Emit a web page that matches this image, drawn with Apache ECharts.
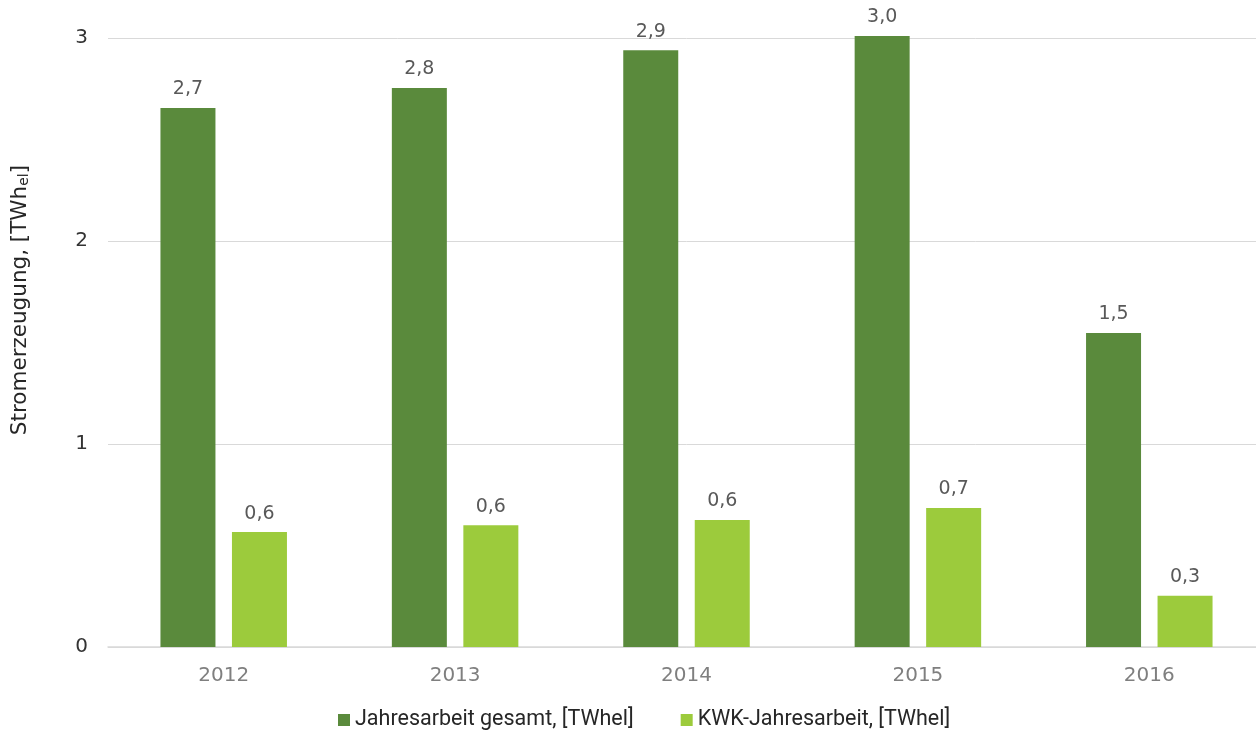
<!DOCTYPE html>
<html>
<head>
<meta charset="utf-8">
<script src="https://cdn.jsdelivr.net/npm/echarts@6/dist/echarts.min.js"></script>
<style>
  html, body { margin: 0; padding: 0; background: #fff; overflow: hidden; }
  #main { width: 1265px; height: 731px; }
</style>
</head>
<body>
<div id="main"></div>
<script>
// Daten
var years = ['2012', '2013', '2014', '2015', '2016'];
var jahresarbeit = [2.655, 2.754, 2.94, 3.01, 1.547];
var kwkJahresarbeit = [0.566, 0.60, 0.626, 0.685, 0.252];
var seriesNames = ['Jahresarbeit gesamt, [TWhel]', 'KWK-Jahresarbeit, [TWhel]'];

var wideFont = '"DejaVu Sans", Roboto, sans-serif';
var legendFont = 'Roboto, "Liberation Sans", sans-serif';

function fmt(p) {
  return p.value.toFixed(1).replace('.', ',');
}

var myChart = echarts.init(document.getElementById('main'));

var labelStyle = {
  show: true,
  position: 'top',
  distance: 9,
  color: '#595959',
  fontSize: 19,
  fontFamily: wideFont,
  formatter: fmt
};

var option = {
  animation: false,
  backgroundColor: '#ffffff',
  grid: {
    left: 108,
    top: 38,
    right: 0,
    height: 609
  },
  legend: {
    data: seriesNames,
    top: 709,
    left: 338,
    padding: 0,
    itemWidth: 12,
    itemHeight: 12,
    itemGap: 47,
    icon: 'rect',
    textStyle: {
      color: '#262626',
      fontSize: 21.5,
      fontFamily: legendFont
    }
  },
  graphic: [
    {
      type: 'text',
      x: 20,
      y: 300,
      rotation: Math.PI / 2,
      style: {
        text: '{a|Stromerzeugung, [TWh}{s|el}{a|]}',
        align: 'center',
        verticalAlign: 'middle',
        rich: {
          a: { fontSize: 21.5, fontFamily: wideFont, fill: '#262626', color: '#262626' },
          s: { fontSize: 14, fontFamily: wideFont, fill: '#262626', color: '#262626', padding: [8, 0, 0, 0] }
        }
      }
    }
  ],
  xAxis: {
    type: 'category',
    data: years,
    axisTick: { show: false },
    axisLine: { lineStyle: { color: '#d9d9d9', width: 1.5 } },
    axisLabel: {
      color: '#7f7f7f',
      fontSize: 20,
      fontFamily: wideFont,
      margin: 19
    }
  },
  yAxis: {
    type: 'value',
    min: 0,
    max: 3,
    interval: 1,
    axisLine: { show: false },
    axisTick: { show: false },
    splitLine: { lineStyle: { color: '#d9d9d9', width: 1 } },
    axisLabel: {
      color: '#333333',
      fontSize: 20,
      fontFamily: wideFont,
      margin: 20
    }
  },
  series: [
    {
      name: seriesNames[0],
      type: 'bar',
      data: jahresarbeit,
      barWidth: 55,
      barGap: '30%',
      clip: false,
      itemStyle: { color: '#5a8a3c' },
      label: labelStyle
    },
    {
      name: seriesNames[1],
      type: 'bar',
      data: kwkJahresarbeit,
      barWidth: 55,
      clip: false,
      itemStyle: { color: '#9ccb3c' },
      label: labelStyle
    }
  ]
};

myChart.setOption(option);
</script>
</body>
</html>
